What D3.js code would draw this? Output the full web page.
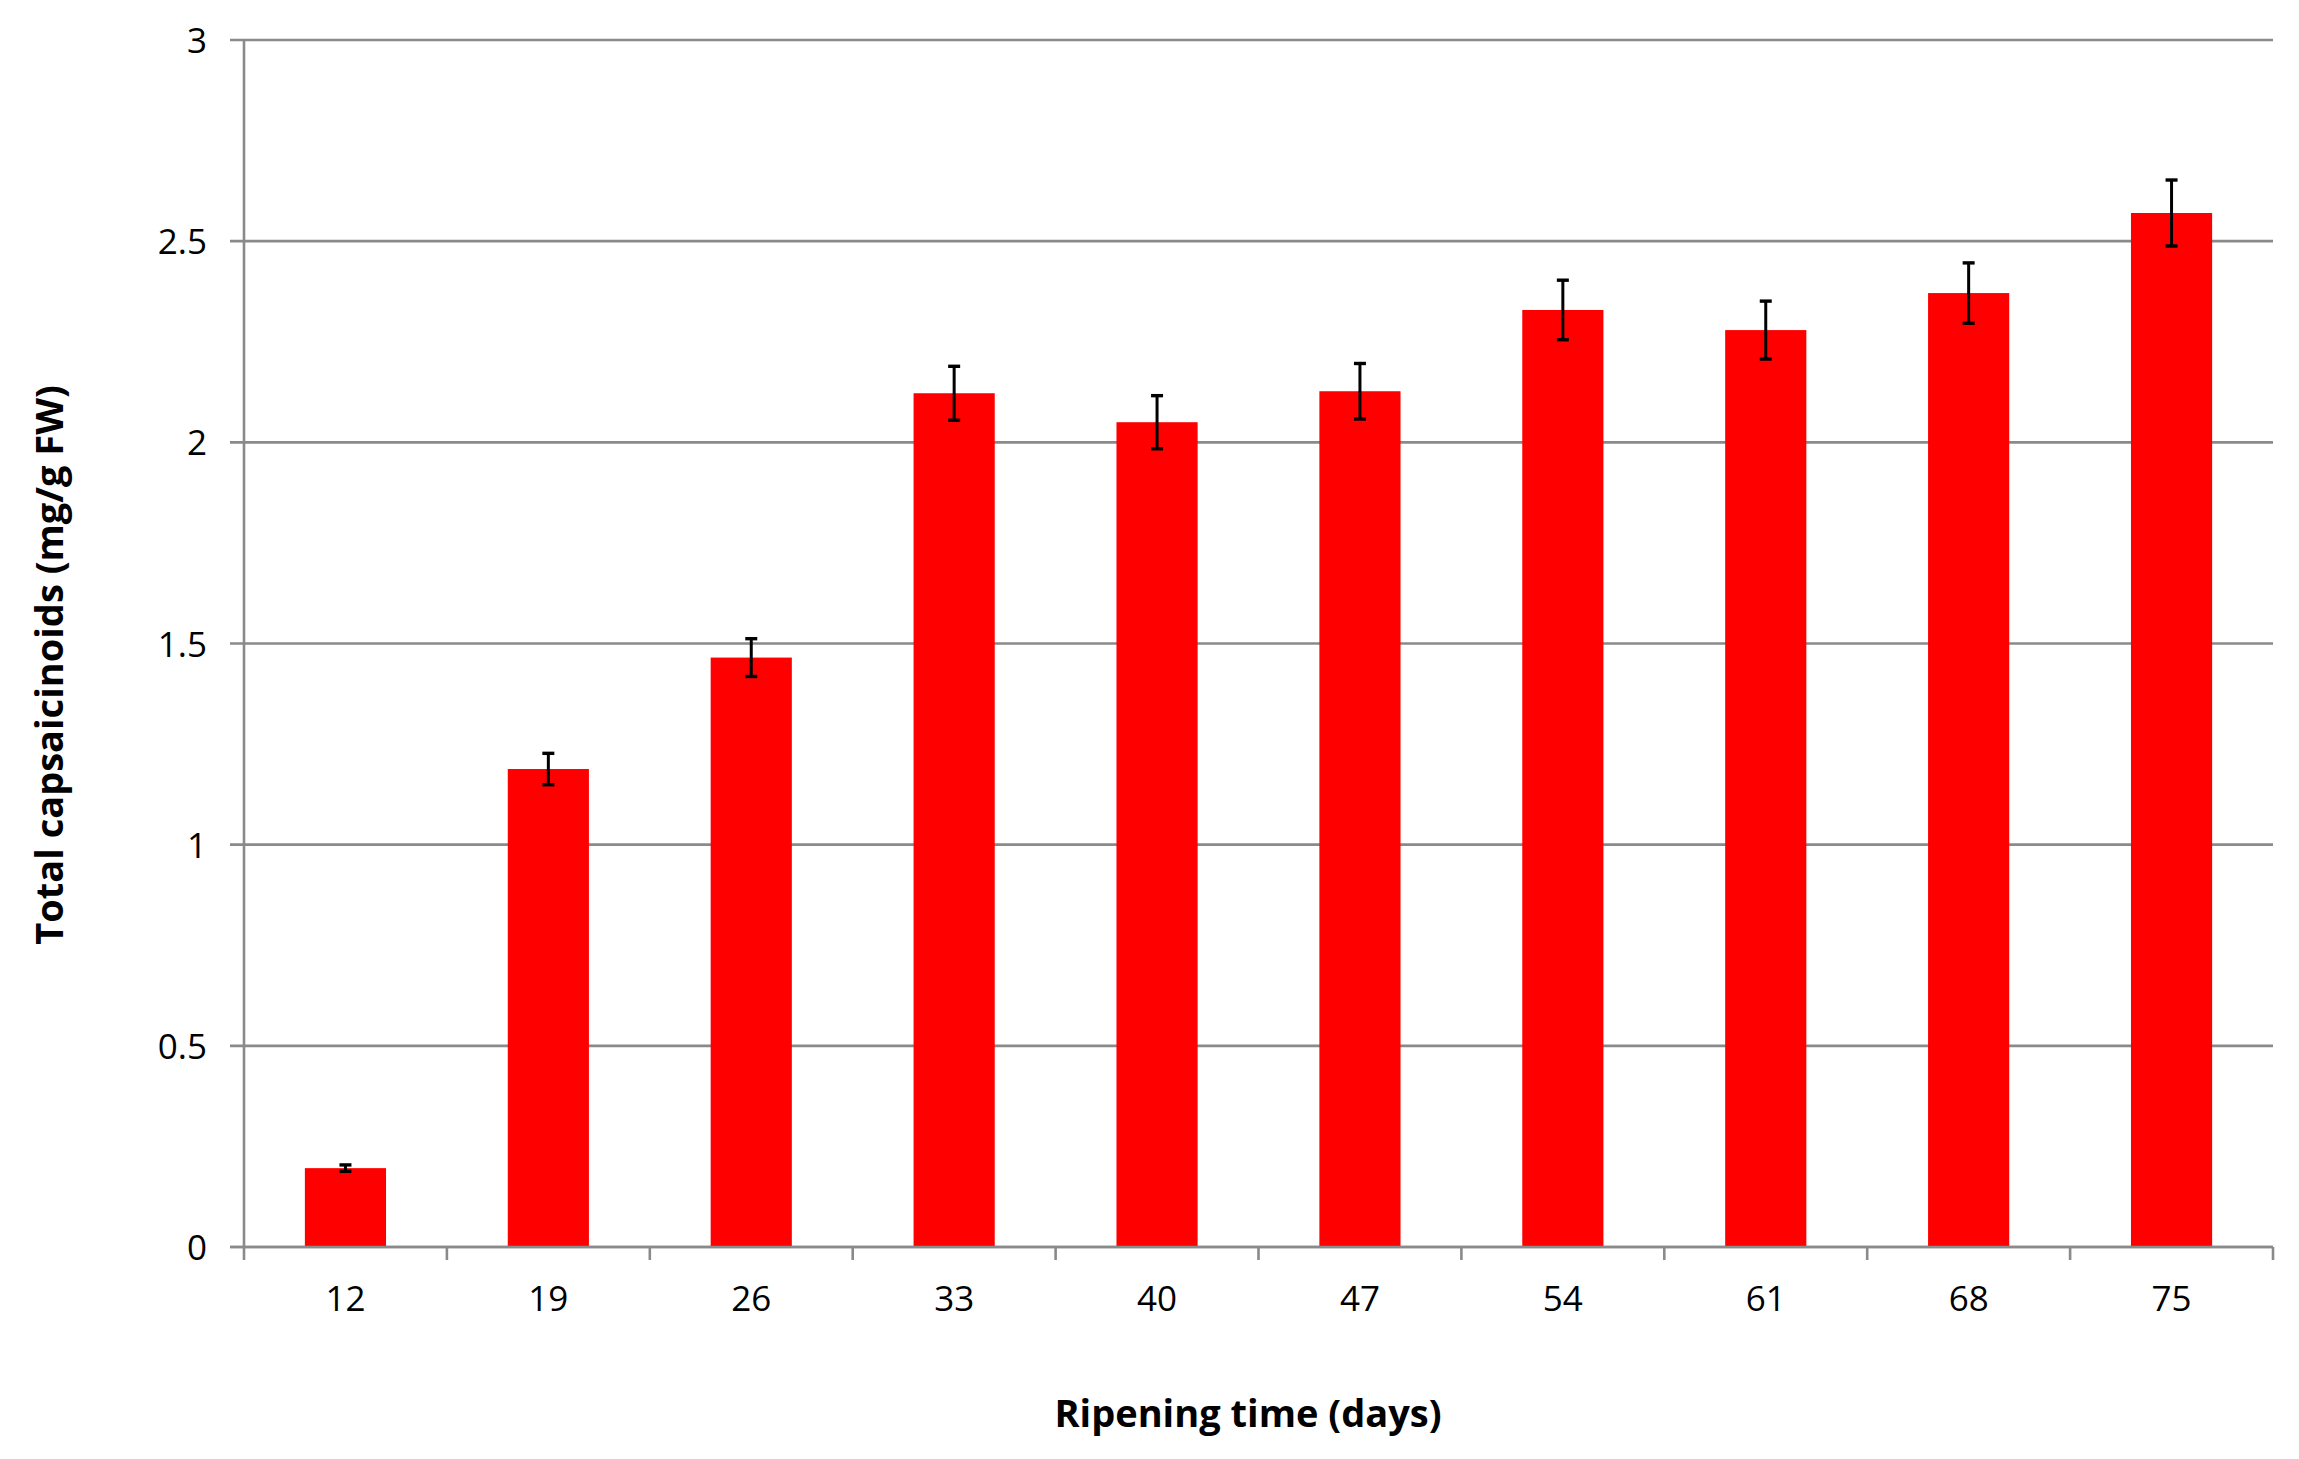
<!DOCTYPE html>
<html>
<head>
<meta charset="utf-8">
<script src="https://cdn.jsdelivr.net/npm/d3@7"></script>
<style>
  body { margin: 0; background: #fff; }
  text { font-family: "Open Sans", Lato, sans-serif; fill: #000; }
</style>
</head>
<body>
<script>
// size of the picture
var w = 2299;
var h = 1459;
var margin = { top: 40, right: 26, bottom: 212, left: 244 };
var pw = w - margin.left - margin.right;
var ph = h - margin.top - margin.bottom;

// data
const days = ["12", "19", "26", "33", "40", "47", "54", "61", "68", "75"];
const capsaicinoids = [0.196, 1.188, 1.465, 2.122, 2.050, 2.127, 2.329, 2.279, 2.371, 2.570];
const errors = [0.008, 0.039, 0.047, 0.067, 0.066, 0.069, 0.074, 0.072, 0.075, 0.082];
const yTicks = [0, 0.5, 1, 1.5, 2, 2.5, 3];
const yTickLabels = ["0", "0.5", "1", "1.5", "2", "2.5", "3"];

const xTitle = "Ripening time (days)";
const yTitle = "Total capsaicinoids (mg/g FW)";

const gridColor = "#8a8a8a";

// scales
const x = d3.scaleBand()
    .domain(days)
    .range([0, pw])
    .paddingInner(0.6)
    .paddingOuter(0.3);

const y = d3.scaleLinear()
    .domain([0, 3])
    .range([ph, 0]);

const svg = d3.select("body")
    .append("svg")
    .attr("width", w)
    .attr("height", h);

const g = svg.append("g")
    .attr("transform", `translate(${margin.left},${margin.top})`);

// horizontal grid lines (with the little outer tick on the left)
g.selectAll(".grid")
    .data(yTicks)
    .enter()
    .append("line")
    .attr("x1", -14)
    .attr("x2", pw)
    .attr("y1", d => y(d))
    .attr("y2", d => y(d))
    .attr("stroke", gridColor)
    .attr("stroke-width", 2.6);

// y axis labels
const yAxis = d3.axisLeft(y)
    .tickValues(yTicks)
    .tickFormat((d, i) => yTickLabels[i])
    .tickSize(0)
    .tickPadding(37);

g.append("g")
    .call(yAxis)
    .call(a => a.select(".domain").remove())
    .selectAll("text")
    .attr("font-size", 35)
    .attr("dy", "0.36em");

// bars
g.selectAll(".bar")
    .data(capsaicinoids)
    .enter()
    .append("rect")
    .attr("x", (d, i) => x(days[i]))
    .attr("y", d => y(d))
    .attr("width", x.bandwidth())
    .attr("height", d => y(0) - y(d))
    .attr("fill", "#ff0000");

// error bars
const eb = g.selectAll(".err")
    .data(capsaicinoids)
    .enter()
    .append("g")
    .attr("stroke", "#000")
    .attr("stroke-width", 3);

const cx = i => x(days[i]) + x.bandwidth() / 2;

eb.append("line")
    .attr("x1", (d, i) => cx(i))
    .attr("x2", (d, i) => cx(i))
    .attr("y1", (d, i) => y(d + errors[i]))
    .attr("y2", (d, i) => y(d - errors[i]));

eb.append("line")
    .attr("x1", (d, i) => cx(i) - 6)
    .attr("x2", (d, i) => cx(i) + 6)
    .attr("y1", (d, i) => y(d + errors[i]))
    .attr("y2", (d, i) => y(d + errors[i]))
    .attr("stroke-width", 3.4);

eb.append("line")
    .attr("x1", (d, i) => cx(i) - 6)
    .attr("x2", (d, i) => cx(i) + 6)
    .attr("y1", (d, i) => y(d - errors[i]))
    .attr("y2", (d, i) => y(d - errors[i]))
    .attr("stroke-width", 3.4);

// y axis line
g.append("line")
    .attr("x1", 0).attr("x2", 0)
    .attr("y1", 0).attr("y2", ph)
    .attr("stroke", gridColor)
    .attr("stroke-width", 2.6);

// x axis line and category separators
g.append("line")
    .attr("x1", -14).attr("x2", pw)
    .attr("y1", ph).attr("y2", ph)
    .attr("stroke", gridColor)
    .attr("stroke-width", 2.6);

const sep = d3.range(days.length + 1).map(i => i * x.step());
g.selectAll(".sep")
    .data(sep)
    .enter()
    .append("line")
    .attr("x1", d => d).attr("x2", d => d)
    .attr("y1", ph).attr("y2", ph + 13)
    .attr("stroke", gridColor)
    .attr("stroke-width", 2.6);

// x axis labels
const xAxis = d3.axisBottom(x).tickSize(0).tickPadding(64);
g.append("g")
    .attr("transform", `translate(0,${ph})`)
    .call(xAxis)
    .call(a => a.select(".domain").remove())
    .selectAll("text")
    .attr("font-size", 35)
    .attr("dy", "0");

// axis titles
svg.append("text")
    .attr("x", 1248)
    .attr("y", 1427)
    .attr("text-anchor", "middle")
    .attr("font-size", 38)
    .attr("font-weight", "bold")
    .text(xTitle);

svg.append("text")
    .attr("transform", "translate(63,665) rotate(-90)")
    .attr("text-anchor", "middle")
    .attr("font-size", 38)
    .attr("font-weight", "bold")
    .text(yTitle);
</script>
</body>
</html>
